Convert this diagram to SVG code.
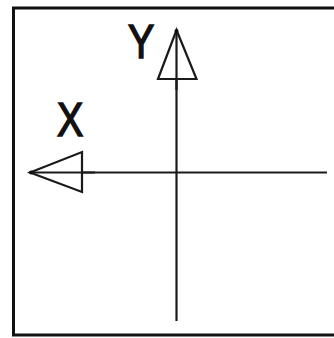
<svg xmlns="http://www.w3.org/2000/svg" width="334" height="338" viewBox="0 0 334 338">
<style>
.axis{stroke:#1a1a1a;stroke-width:2.2;fill:none}
.head{stroke:#1a1a1a;stroke-width:2.2;fill:#fff;stroke-linejoin:miter}
.lbl{font-family:"Liberation Sans",Arial,sans-serif;font-size:48px;fill:#111;stroke:#111;stroke-width:1.6}
</style>
<rect x="13.5" y="8" width="330" height="327" fill="#fff" stroke="#111" stroke-width="3"/>
<g id="connectors">
<line class="axis" x1="176.5" y1="30" x2="176.5" y2="321"/>
<line class="axis" x1="30" y1="172.5" x2="327" y2="172.5"/>
</g>
<g id="y-axis">
<polygon class="head" points="176.5,30 196.5,79 158,79"/>
<line class="axis" x1="176.5" y1="30" x2="176.5" y2="90"/>
<circle cx="176.5" cy="31" r="2" fill="#111"/>
<text class="lbl" transform="translate(128,58) scale(0.82,1)">Y</text>
</g>
<g id="x-axis">
<polygon class="head" points="30,172.5 82,152 82,192"/>
<line class="axis" x1="30" y1="172.5" x2="95" y2="172.5"/>
<circle cx="31" cy="172.5" r="2" fill="#111"/>
<text class="lbl" transform="translate(57,136) scale(0.82,1)">X</text>
</g>
</svg>
